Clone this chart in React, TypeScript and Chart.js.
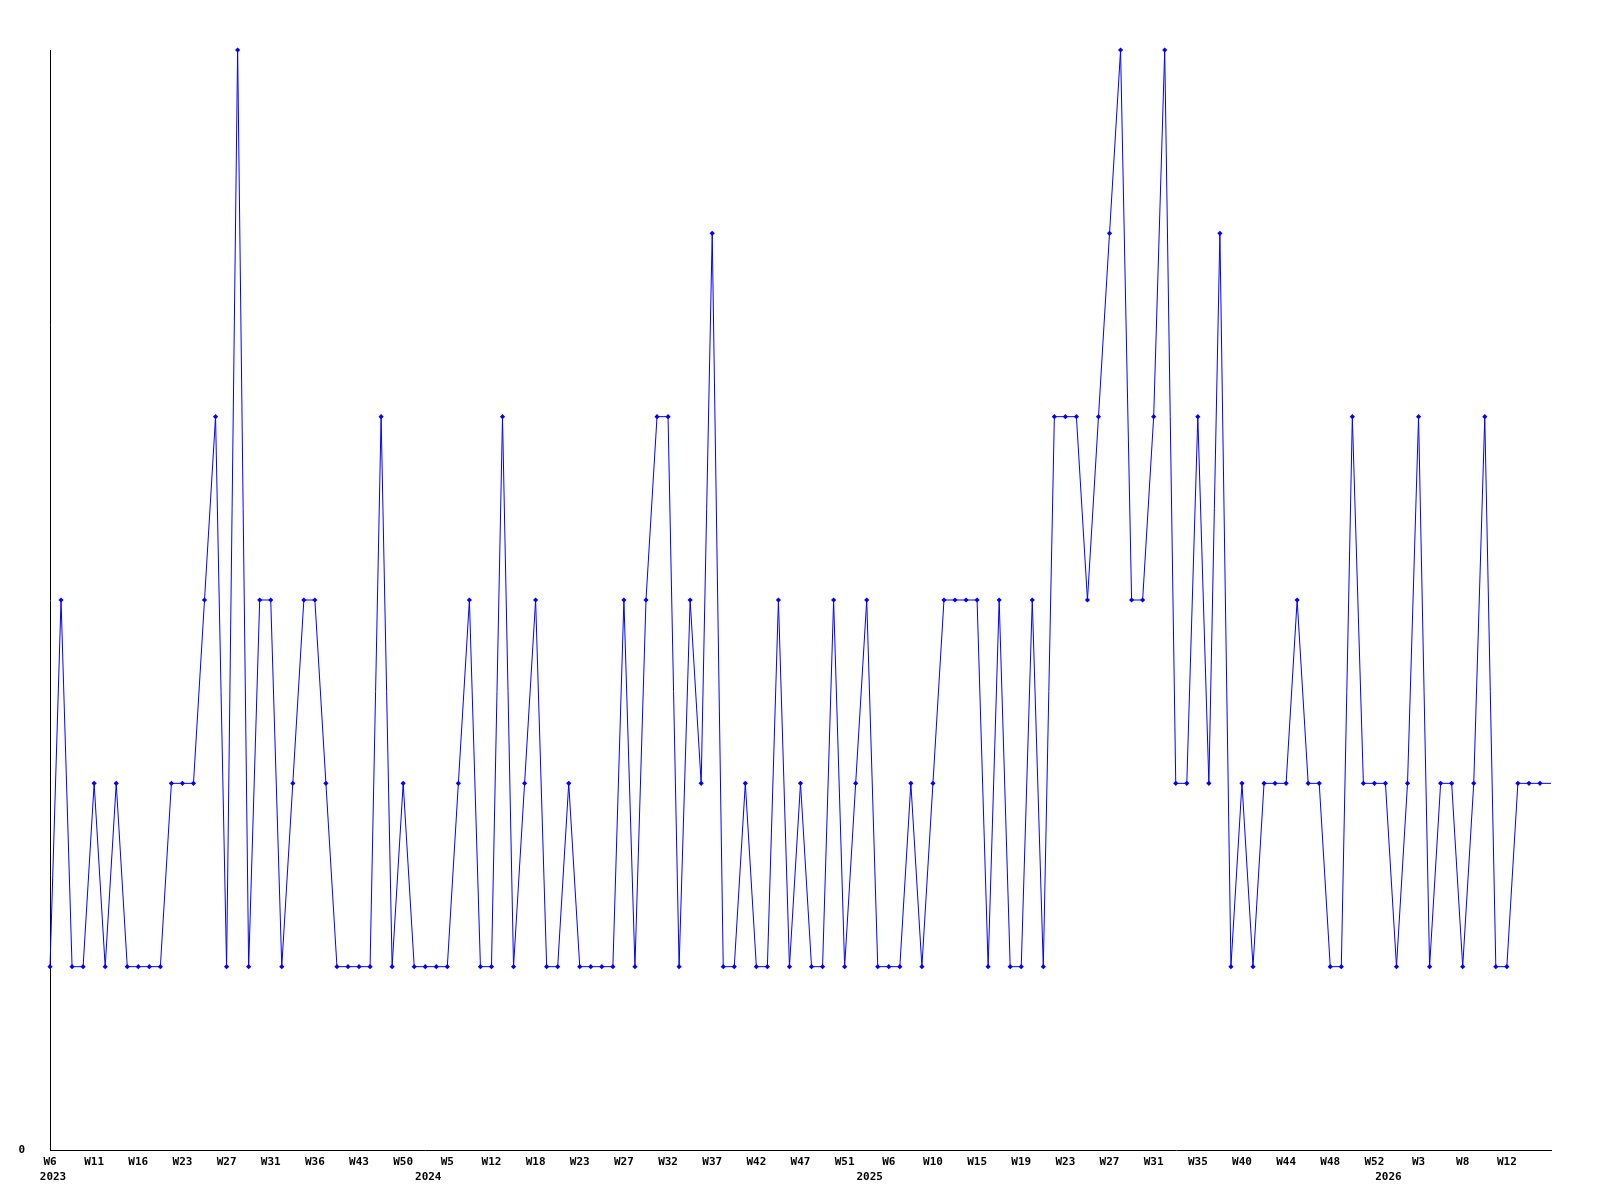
import React, { useEffect, useRef } from "react";
import { Chart, registerables } from "chart.js";

Chart.register(...registerables);

// Weekly values (one point per sample)
const values: number[] = [
  1, 3, 1, 1, 2, 1, 2, 1, 1, 1,
  1, 2, 2, 2, 3, 4, 1, 6, 1, 3,
  3, 1, 2, 3, 3, 2, 1, 1, 1, 1,
  4, 1, 2, 1, 1, 1, 1, 2, 3, 1,
  1, 4, 1, 2, 3, 1, 1, 2, 1, 1,
  1, 1, 3, 1, 3, 4, 4, 1, 3, 2,
  5, 1, 1, 2, 1, 1, 3, 1, 2, 1,
  1, 3, 1, 2, 3, 1, 1, 1, 2, 1,
  2, 3, 3, 3, 3, 1, 3, 1, 1, 3,
  1, 4, 4, 4, 3, 4, 5, 6, 3, 3,
  4, 6, 2, 2, 4, 2, 5, 1, 2, 1,
  2, 2, 2, 3, 2, 2, 1, 1, 4, 2,
  2, 2, 1, 2, 4, 1, 2, 2, 1, 2,
  4, 1, 1, 2, 2, 2, 2,
];

// Week tick labels, one every WEEK_STEP samples
const weekLabels: string[] = [
  "W6", "W11", "W16", "W23", "W27", "W31", "W36", "W43", "W50",
  "W5", "W12", "W18", "W23", "W27", "W32", "W37", "W42", "W47", "W51",
  "W6", "W10", "W15", "W19", "W23", "W27", "W31", "W35", "W40", "W44", "W48", "W52",
  "W3", "W8", "W12",
];
const WEEK_STEP = 4;

// Year labels and the sample index where each year's label sits
const yearLabels: string[] = ["2023", "2024", "2025", "2026"];
const yearIndex: number[] = [0, 34, 74, 121];

const yTickValues: number[] = [0];

const FONT = { family: "'DejaVu Sans Mono', monospace", size: 11, weight: "bold" as const };

export default function App() {
  const ref = useRef<HTMLCanvasElement | null>(null);

  useEffect(() => {
    if (!ref.current) return;
    const n = values.length;
    const data = values.map((v, i) => ({ x: i, y: v }));
    const radii = values.map((_, i) => (i === n - 1 ? 0 : 2.6));

    const chart = new Chart(ref.current, {
      type: "line",
      data: {
        datasets: [
          {
            data,
            borderColor: "#0000ff",
            backgroundColor: "#0000ff",
            borderWidth: 1,
            pointStyle: "rectRot",
            pointRadius: radii,
            pointBorderWidth: 0,
            pointBackgroundColor: "#0000ff",
            tension: 0,
            clip: false as any,
          },
        ],
      },
      options: {
        animation: false,
        responsive: true,
        maintainAspectRatio: false,
        layout: { padding: { left: 0, top: 50, right: 49, bottom: 0 } },
        plugins: { legend: { display: false }, tooltip: { enabled: false } },
        scales: {
          x: {
            type: "linear",
            position: "bottom",
            min: 0,
            max: n - 1,
            grid: { display: false, drawTicks: false },
            border: { display: true, color: "#000000", width: 1 },
            afterBuildTicks: (scale: any) => {
              scale.ticks = weekLabels.map((_, k) => ({ value: k * WEEK_STEP }));
            },
            afterFit: (scale: any) => {
              scale.height = 16;
            },
            ticks: {
              autoSkip: false,
              maxRotation: 0,
              minRotation: 0,
              padding: 6,
              color: "#000000",
              font: FONT,
              callback: (value: any) => weekLabels[Math.round(Number(value) / WEEK_STEP)] ?? "",
            },
          },
          x2: {
            type: "linear",
            position: "bottom",
            min: 0,
            max: n - 1,
            grid: { display: false, drawTicks: false },
            border: { display: false },
            afterBuildTicks: (scale: any) => {
              scale.ticks = yearIndex.map((v) => ({ value: v }));
            },
            afterFit: (scale: any) => {
              scale.height = 34;
            },
            ticks: {
              autoSkip: false,
              maxRotation: 0,
              minRotation: 0,
              padding: 5,
              labelOffset: 3,
              color: "#000000",
              font: FONT,
              callback: (value: any) => {
                const k = yearIndex.indexOf(Math.round(Number(value)));
                return k >= 0 ? yearLabels[k] : "";
              },
            },
          },
          y: {
            type: "linear",
            min: 0,
            max: 6,
            grid: { display: false, drawTicks: false },
            border: { display: true, color: "#000000", width: 1 },
            afterBuildTicks: (scale: any) => {
              scale.ticks = yTickValues.map((v) => ({ value: v }));
            },
            afterFit: (scale: any) => {
              scale.width = 50;
            },
            ticks: {
              padding: 25,
              color: "#000000",
              font: FONT,
              callback: (value: any) => String(value),
            },
          },
        },
      },
    });
    return () => chart.destroy();
  }, []);

  return (
    <div style={{ position: "absolute", left: 0, top: 0, width: 1600, height: 1200, background: "#ffffff" }}>
      <canvas ref={ref} />
    </div>
  );
}
